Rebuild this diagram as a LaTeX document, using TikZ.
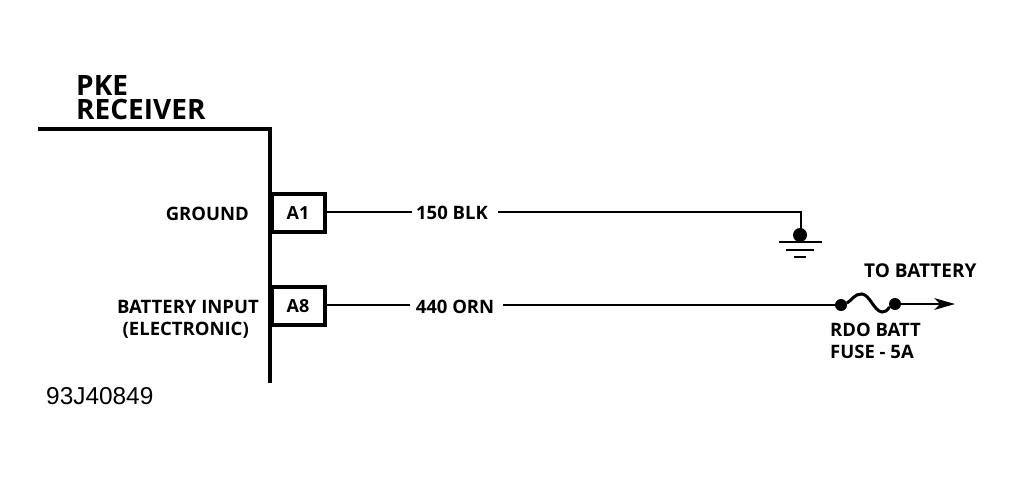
\documentclass[tikz,border=0pt]{standalone}
\usepackage{fontspec}
\setmainfont{Open Sans}
\newfontfamily\idfont{Liberation Sans}
\tikzset{
  x=1pt,y=-1pt,
  heavy/.style={line width=4pt},
  wire/.style={line width=2.6pt},
  lab/.style={inner sep=0pt,font=\bfseries\fontsize{18.5}{20}\selectfont,text=black},
  title/.style={inner sep=0pt,font=\bfseries\fontsize{28}{24}\selectfont,anchor=west,align=left},
  pin/.style={draw,line width=4pt,minimum width=53pt,minimum height=38pt,inner sep=0pt,font=\bfseries\fontsize{18}{20}\selectfont},
  blob/.style={circle,fill=black,inner sep=0pt,minimum size=12pt}
}
\begin{document}
\begin{tikzpicture}
\useasboundingbox (0,0) rectangle (1015,480);
\coordinate (tl) at (38,129);
\coordinate (tr) at (270,129);
\coordinate (bot) at (270,383);
\draw[heavy,line join=miter] (tl) -- (tr) -- (bot);
\node[title] (pke) at (76,98) {PKE\\RECEIVER};
\node[pin] (a1) at (298,213) {A1};
\node[pin] (a8) at (298,306) {A8};
\node[lab,anchor=east] (gnd) at (249,214) {GROUND};
\node[lab,anchor=east] (bat) at (259,307) {BATTERY INPUT};
\node[lab,anchor=east] (ele) at (249,330) {(ELECTRONIC)};
\node[inner sep=0pt,anchor=west,font=\idfont\fontsize{24.4}{26}\selectfont] (id) at (46,396) {93J40849};
\node[lab] (w1) at (452,213) {150 BLK};
\node[lab] (w2) at (455,307) {440 ORN};
\node[blob,minimum size=14pt] (g) at (800,235) {};
\coordinate (w1a) at (326,212);
\coordinate (w1b) at (412,212);
\coordinate (w1c) at (498,212);
\coordinate (gc) at (801,212);
\draw[wire] (w1a) -- (w1b);
\draw[wire] (w1c) -- (gc) -- (gc |- g);
\coordinate (g1a) at (779,242); \coordinate (g1b) at (822,242);
\coordinate (g2a) at (786,250); \coordinate (g2b) at (814,250);
\coordinate (g3a) at (794,257); \coordinate (g3b) at (806,257);
\draw[wire] (g1a) -- (g1b);
\draw[wire] (g2a) -- (g2b);
\draw[line width=2pt] (g3a) -- (g3b);
\node[blob] (f1) at (841,305) {};
\node[blob] (f2) at (895,304) {};
\coordinate (tip) at (955,304);
\coordinate (w2a) at (326,305);
\coordinate (w2b) at (410,305);
\coordinate (w2c) at (503,305);
\draw[wire] (w2a) -- (w2b);
\draw[wire] (w2c) -- (f1);
\draw[line width=3pt] (f1) .. controls (850,302) and (855,293) .. (862,294)
  .. controls (870,295) and (874,311) .. (882,312)
  .. controls (888,312) and (890,306) .. (f2);
\draw[line width=2.2pt] (f2) -- (940,304);
\fill (tip) -- (934,298) -- (940,304) -- (934,310) -- cycle;
\node[lab,font=\bfseries\fontsize{19}{20}\selectfont,anchor=west] (tb) at (864,271) {TO BATTERY};
\node[lab,anchor=west] (rdo) at (830,330) {RDO BATT};
\node[lab,anchor=west] (fuse) at (830,352) {FUSE - 5A};
\end{tikzpicture}
\end{document}
